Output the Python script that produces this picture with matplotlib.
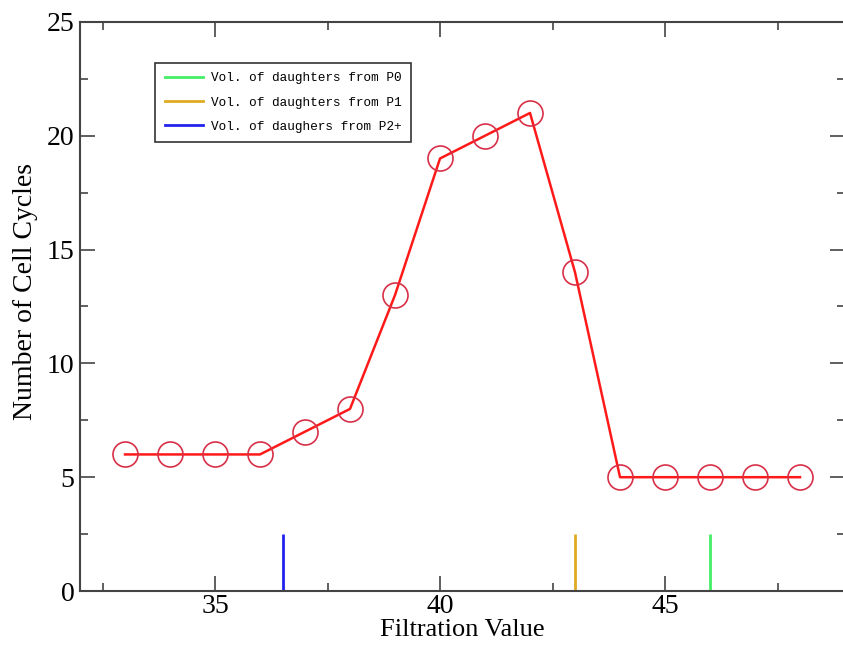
import matplotlib
matplotlib.use("Agg")
import matplotlib.pyplot as plt
from matplotlib.ticker import MultipleLocator

filtration = [33, 34, 35, 36, 37, 38, 39, 40, 41, 42, 43, 44, 45, 46, 47, 48]
cycles = [6, 6, 6, 6, 7, 8, 13, 19, 20, 21, 14, 5, 5, 5, 5, 5]

marker_labels = ["Vol. of daughters from P0", "Vol. of daughters from P1", "Vol. of daughers from P2+"]
marker_x = [46.0, 43.0, 36.5]
marker_h = [2.5, 2.5, 2.5]
marker_colors = ["#44ee66", "#e0aa22", "#2222ee"]

plt.rcParams['font.family'] = ['Liberation Serif', 'DejaVu Serif']

fig = plt.figure(figsize=(8.43, 6.46), dpi=100)
ax = fig.add_axes([0.0949, 0.0851, 0.9075, 0.881])

handles = []
for x, h, c, lab in zip(marker_x, marker_h, marker_colors, marker_labels):
    ax.vlines(x, 0, h, colors=c, linewidth=2)
    handles.append(plt.Line2D([], [], color=c, linewidth=2, label=lab))

ax.plot(filtration, cycles, color="#ff1a1a", linewidth=1.8, zorder=3)
ax.plot(filtration, cycles, linestyle="none", marker="o", markersize=18,
        markerfacecolor="none", markeredgecolor="#d83048", markeredgewidth=1.2, zorder=4)

ax.set_xlim(32, 49)
ax.set_ylim(0, 25)
ax.xaxis.set_major_locator(MultipleLocator(5))
ax.xaxis.set_minor_locator(MultipleLocator(2.5))
ax.yaxis.set_major_locator(MultipleLocator(5))
ax.yaxis.set_minor_locator(MultipleLocator(2.5))
ax.tick_params(which="both", direction="in", top=True, right=True, labelsize=20,
               color="#444444")
ax.tick_params(which="major", length=11, width=1.2)
ax.tick_params(axis="x", which="major", pad=2)
ax.tick_params(axis="y", which="major", pad=4)
ax.tick_params(which="minor", length=6, width=1.2)
for s in ax.spines.values():
    s.set_linewidth(1.5)
    s.set_color("#444444")
ax.set_xlabel("Filtration Value", fontsize=19, labelpad=0)
ax.set_ylabel("Number of Cell Cycles", fontsize=20)
ax.yaxis.set_label_coords(-0.055, 0.527)

leg = ax.legend(handles=handles, loc="upper left", bbox_to_anchor=(0.098, 0.928),
                prop={"family": "Liberation Mono", "size": 9.2},
                frameon=True, fancybox=False, edgecolor="black", handlelength=3,
                handletextpad=0.6, borderpad=0.75, labelspacing=0.95, borderaxespad=0)
leg.get_frame().set_linewidth(1.2)

fig.savefig("out.png", dpi=100)
